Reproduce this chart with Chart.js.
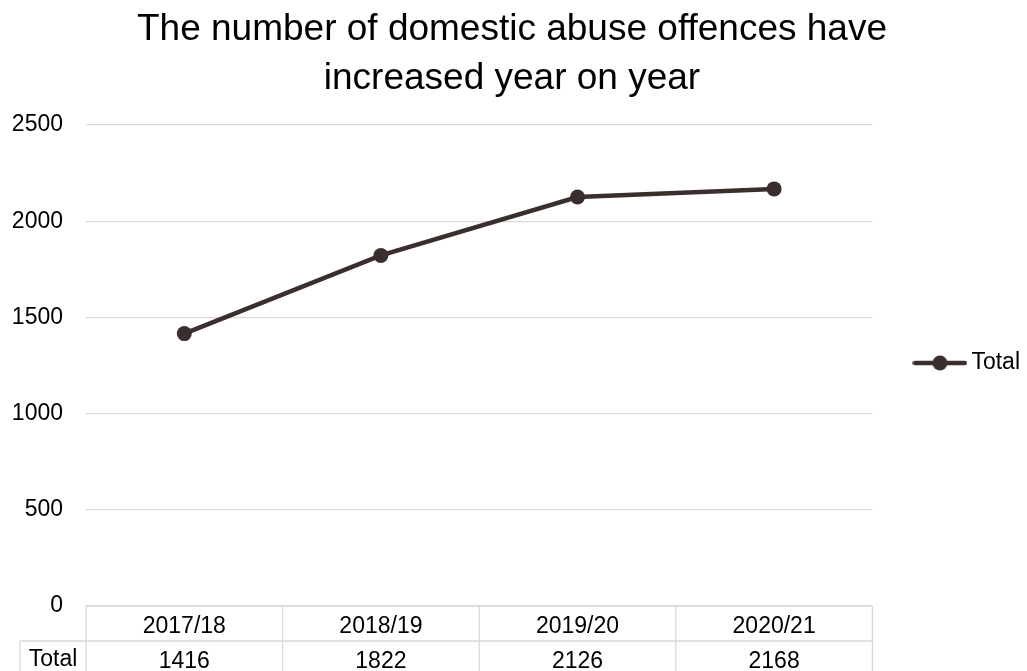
<!DOCTYPE html>
<html>
<head>
<meta charset="utf-8">
<script src="https://cdn.jsdelivr.net/npm/chart.js@4.4.1/dist/chart.umd.min.js"></script>
<style>
  html, body { margin: 0; padding: 0; background: #ffffff; }
  #wrap { width: 1027px; height: 671px; position: relative; }
</style>
</head>
<body>
<div id="wrap"><canvas id="c"></canvas></div>
<script>
// ---- data ----
const titleLines = ['The number of domestic abuse offences have', 'increased year on year'];
const categories = ['2017/18', '2018/19', '2019/20', '2020/21'];
const seriesName = 'Total';
const totals = [1416, 1822, 2126, 2168];
const yTicks = [0, 500, 1000, 1500, 2000, 2500];

// ---- styles ----
const FONT = "'Liberation Sans', Arial, sans-serif";
const LINE_COLOR = '#3b2f2e';
const GRID_COLOR = '#dcd8d6';
const TEXT_COLOR = '#000000';

// legend sample: line with a marker in the middle
const legendIcon = document.createElement('canvas');
legendIcon.width = 55; legendIcon.height = 18;
(function () {
  const g = legendIcon.getContext('2d');
  g.strokeStyle = LINE_COLOR; g.lineWidth = 4.5; g.lineCap = 'round';
  g.beginPath(); g.moveTo(2.5, 9); g.lineTo(52.5, 9); g.stroke();
  g.fillStyle = LINE_COLOR;
  g.beginPath(); g.arc(27.5, 9, 7.5, 0, Math.PI * 2); g.fill();
})();

const tablePlugin = {
  id: 'dataTable',
  afterLayout(chart) {
    const lg = chart.legend;
    if (lg) { lg.top += 27.5; lg.bottom += 27.5; }
  },
  afterDraw(chart) {
    const ctx = chart.ctx;
    const area = chart.chartArea;
    const xs = chart.scales.x;
    const n = categories.length;
    const step = (area.right - area.left) / n;
    const top = area.bottom;
    const rowH = 35;
    const mid = top + rowH;
    const bottom = chart.height;
    const labelLeft = 20;
    ctx.save();
    ctx.strokeStyle = GRID_COLOR;
    ctx.lineWidth = 1.3;
    ctx.beginPath();
    ctx.moveTo(area.left, top); ctx.lineTo(area.right, top);
    ctx.moveTo(labelLeft, mid); ctx.lineTo(area.right, mid);
    for (let i = 0; i < n; i++) {
      const x = xs.getPixelForValue(i) - step / 2;
      ctx.moveTo(x, top); ctx.lineTo(x, bottom);
    }
    const xr = xs.getPixelForValue(n - 1) + step / 2;
    ctx.moveTo(xr, top); ctx.lineTo(xr, bottom);
    ctx.moveTo(labelLeft, mid); ctx.lineTo(labelLeft, bottom);
    ctx.stroke();
    ctx.fillStyle = TEXT_COLOR;
    ctx.font = '23px ' + FONT;
    ctx.textAlign = 'center';
    ctx.textBaseline = 'middle';
    ctx.fillText(chart.data.datasets[0].label, (labelLeft + area.left) / 2, mid + rowH / 2 + 1);
    ctx.restore();
  }
};

new Chart(document.getElementById('c'), {
  type: 'line',
  data: {
    labels: categories,
    datasets: [{
      label: seriesName,
      data: totals,
      borderColor: LINE_COLOR,
      backgroundColor: LINE_COLOR,
      borderWidth: 4.5,
      pointRadius: 7.5,
      pointHoverRadius: 7.5,
      pointBackgroundColor: LINE_COLOR,
      pointBorderWidth: 0,
      tension: 0,
      clip: false
    }]
  },
  options: {
    responsive: true,
    maintainAspectRatio: false,
    animation: false,
    devicePixelRatio: 1,
    layout: { padding: { left: -6, right: -3, top: 0, bottom: 0 } },
    plugins: {
      title: {
        display: true,
        text: titleLines,
        color: TEXT_COLOR,
        font: { family: FONT, size: 37, weight: 'normal', lineHeight: 1.33 },
        padding: { top: 5, bottom: 21.6 }
      },
      legend: {
        display: true,
        position: 'right',
        align: 'center',
        labels: {
          usePointStyle: true,
          pointStyle: legendIcon,
          pointStyleWidth: 40,
          padding: 47.5,
          color: TEXT_COLOR,
          font: { family: FONT, size: 23 }
        }
      },
      tooltip: { enabled: false }
    },
    scales: {
      x: {
        type: 'category',
        offset: true,
        grid: { display: false, drawTicks: false },
        border: { display: false },
        ticks: {
          autoSkip: false,
          maxRotation: 0,
          minRotation: 0,
          padding: 3,
          color: TEXT_COLOR,
          font: { family: FONT, size: 23, lineHeight: 35 / 23 },
          callback: function (value, index) {
            return [categories[index], String(totals[index])];
          }
        },
        afterFit(scale) { scale.height = 65; }
      },
      y: {
        min: 0,
        max: 2500,
        grid: { color: GRID_COLOR, lineWidth: 1.3, drawTicks: false },
        border: { display: false },
        afterBuildTicks(scale) { scale.ticks = yTicks.map(v => ({ value: v })); },
        ticks: {
          padding: 23,
          color: TEXT_COLOR,
          font: { family: FONT, size: 23 },
          callback: function (value) { return String(value); }
        },
        afterFit(scale) { scale.width = 92; }
      }
    }
  },
  plugins: [tablePlugin]
});
</script>
</body>
</html>
